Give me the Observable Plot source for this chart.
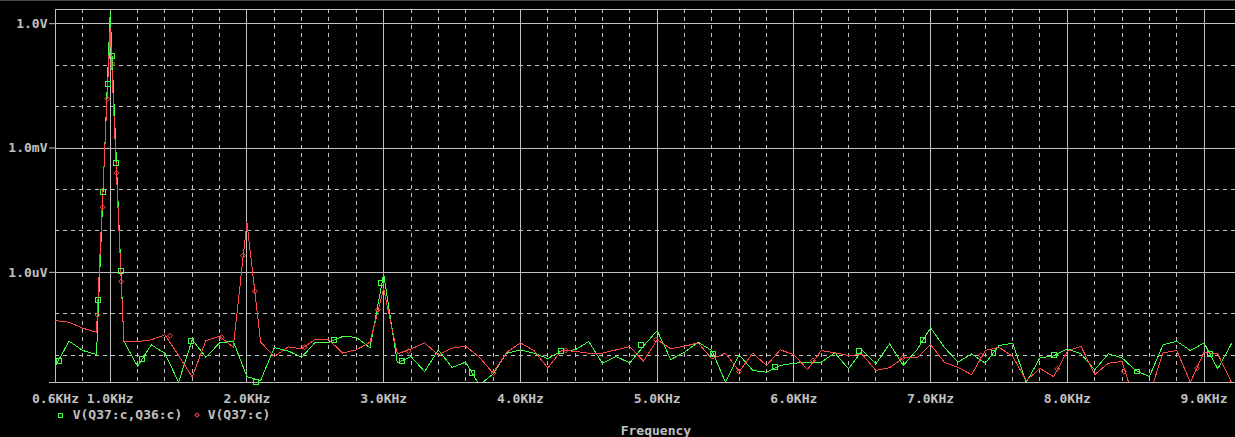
<!DOCTYPE html>
<html>
<head>
<meta charset="utf-8">
<script src="https://cdn.jsdelivr.net/npm/d3@7"></script>
<script src="https://cdn.jsdelivr.net/npm/@observablehq/plot@0.6"></script>
<style>
html, body { margin: 0; padding: 0; background: #000; }
#wrap { position: relative; width: 1235px; height: 437px; overflow: hidden; background: #000;
  font-family: "DejaVu Sans Mono", monospace; font-weight: bold; font-size: 13px; color: #c0c0c0; }
#wrap svg { position: absolute; left: 0; top: 0; }
#topbar { position: absolute; left: 0; top: 0; width: 1235px; height: 1px; background: #4a4a4a; }
.lbl { position: absolute; white-space: pre; line-height: 13px; }
.sq { position: absolute; width: 3px; height: 3px; border: 1px solid #40ff40; }
.dm { position: absolute; width: 2px; height: 2px; border: 1px solid #ff4848; transform: rotate(45deg); }
</style>
</head>
<body>
<div id="wrap">
  <div id="topbar"></div>
  <div class="sq" style="left:58px; top:413px;"></div>
  <div class="lbl" id="leg1" style="left:72.7px; top:408px;"></div>
  <div class="dm" style="left:194.7px; top:413px;"></div>
  <div class="lbl" id="leg2" style="left:207.7px; top:408px;"></div>
  <div class="lbl" id="xlab" style="left:620.7px; top:423.5px;"></div>
</div>
<script>
// FFT bins (kHz)
const freqs = [0.6,0.7,0.8,0.9,1.0,1.1,1.2,1.3,1.4,1.5,1.6,1.7,1.8,1.9,2.0,2.1,2.2,2.3,2.4,2.5,2.6,2.7,2.8,2.9,
  3.0,3.1,3.2,3.3,3.4,3.5,3.6,3.7,3.8,3.9,4.0,4.1,4.2,4.3,4.4,4.5,4.6,4.7,4.8,4.9,5.0,5.1,5.2,5.3,5.4,5.5,5.6,5.7,5.8,5.9,
  6.0,6.1,6.2,6.3,6.4,6.5,6.6,6.7,6.8,6.9,7.0,7.1,7.2,7.3,7.4,7.5,7.6,7.7,7.8,7.9,8.0,8.1,8.2,8.3,8.4,8.5,8.6,8.7,8.8,8.9,
  9.0,9.1,9.2];

// V(Q37:c,Q36:c) in volts
const diffV = [5.65e-9,21.8e-9,13.0e-9,10.4e-9,1.89,21.8e-9,5.4e-9,17.8e-9,11.2e-9,2.23e-9,23.9e-9,8.95e-9,19.9e-9,21.8e-9,
  3.05e-9,2.45e-9,15.3e-9,12.8e-9,8.95e-9,20.6e-9,20.6e-9,28.3e-9,27.2e-9,15.1e-9,
  9.2e-7,6.55e-9,9.3e-9,4.05e-9,13.5e-9,5.1e-9,6.8e-9,1.9e-9,3.55e-9,11.2e-9,13.5e-9,11.2e-9,8.3e-9,12.7e-9,13.5e-9,21.4e-9,
  6.4e-9,9.3e-9,6.55e-9,16.5e-9,39.4e-9,7.9e-9,11.8e-9,20.6e-9,13.0e-9,2.23e-9,10.2e-9,4.3e-9,3.9e-9,5.65e-9,
  6.4e-9,6.8e-9,6.8e-9,11.4e-9,4.7e-9,13.0e-9,6.2e-9,18.8e-9,5.65e-9,13.5e-9,45.8e-9,15.6e-9,6.8e-9,10.8e-9,6.4e-9,17.1e-9,
  19.5e-9,2.23e-9,8.65e-9,9.6e-9,14.3e-9,10.8e-9,4.45e-9,10.8e-9,8.65e-9,4.3e-9,3.05e-9,17.8e-9,21.8e-9,13.0e-9,
  19.9e-9,4.7e-9,18.8e-9];

// V(Q37:c) in volts
const q37V = [68.8e-9,62.5e-9,44.8e-9,35.9e-9,0.766,21.8e-9,21.4e-9,23.5e-9,31.1e-9,9.9e-9,3.0e-9,22.6e-9,28.7e-9,15.6e-9,
  1.59e-5,20.8e-9,9.3e-9,15.9e-9,14.3e-9,24.3e-9,23.5e-9,11.3e-9,13.5e-9,20.6e-9,
  4.0e-7,10.8e-9,14.1e-9,19.9e-9,10.2e-9,14.8e-9,16.5e-9,8.95e-9,3.7e-9,11.8e-9,19.9e-9,13.0e-9,4.9e-9,13.0e-9,12.5e-9,11.2e-9,
  11.2e-9,13.5e-9,16.2e-9,7.2e-9,23.5e-9,14.3e-9,16.5e-9,19.9e-9,8.2e-9,11.2e-9,4.05e-9,11.2e-9,5.65e-9,13.5e-9,
  10.4e-9,4.5e-9,13.0e-9,11.4e-9,9.9e-9,10.4e-9,4.3e-9,5.0e-9,8.65e-9,8.65e-9,18.1e-9,6.8e-9,5.1e-9,3.4e-9,13.0e-9,15.6e-9,
  9.3e-9,2.45e-9,4.8e-9,3.05e-9,12.5e-9,16.5e-9,3.4e-9,6.4e-9,7.05e-9,0.64e-9,1.1e-9,11.4e-9,13.0e-9,2.23e-9,
  11.8e-9,10.8e-9,2.23e-9];

// trace marker positions (kHz, V)
const diffMarkF = [0.628,0.912,0.949,0.981,1.015,1.044,1.080,1.234,1.591,2.064,2.635,2.983,3.134,3.645,4.295,4.885,5.409,5.859,6.479,6.942,7.460,7.903,8.511,9.042];
const diffMarkV = [7.45e-9,2.21e-7,8.77e-5,3.54e-2,0.168,4.40e-4,1.09e-6,8.2e-9,22.6e-9,2.23e-9,23.5e-9,5.59e-7,7.45e-9,3.75e-9,12.8e-9,17.8e-9,10.8e-9,5.1e-9,13.0e-9,23.5e-9,11.4e-9,9.9e-9,4.05e-9,10.8e-9];
const q37MarkF = [0.908,0.945,0.978,1.015,1.047,1.080,1.438,1.815,1.971,2.058,2.421,2.956,3.182,3.803,4.331,4.991,5.599,6.139,6.796,7.368,7.927,8.414,8.949];
const q37MarkV = [9.44e-8,3.73e-5,1.54e-2,0.108,2.52e-4,6.01e-7,29.4e-9,27.2e-9,2.55e-6,3.51e-7,15.6e-9,1.25e-7,12.5e-9,3.7e-9,13.0e-9,23.5e-9,4.05e-9,7.45e-9,8.65e-9,9.9e-9,4.7e-9,4.05e-9,4.85e-9];

// axes / grid
const xTickValues = [0.6,1,2,3,4,5,6,7,8,9];
const xTickLabels = ["0.6KHz","1.0KHz","2.0KHz","3.0KHz","4.0KHz","5.0KHz","6.0KHz","7.0KHz","8.0KHz","9.0KHz"];
const xMinor = [0.8,1.2,1.4,1.6,1.8,2.2,2.4,2.6,2.8,3.2,3.4,3.6,3.8,4.2,4.4,4.6,4.8,5.2,5.4,5.6,5.8,6.2,6.4,6.6,6.8,7.2,7.4,7.6,7.8,8.2,8.4,8.6,8.8];
const yTickValues = [1, 1e-3, 1e-6, 2.2e-9];
const yTickLabels = ["1.0V", "1.0mV", "1.0uV", "2.2nV"];
const yMinor = [0.1, 0.01, 1e-4, 1e-5, 1e-7, 1e-8];
const yTop = 2.2;
const seriesNames = ["V(Q37:c,Q36:c)", "V(Q37:c)"];
const xAxisTitle = "Frequency";

const GREEN = "#40ff40", RED = "#ff4848", GRID = "#c0c0c0";

const diffData = freqs.map((f, i) => ({f, v: diffV[i]}));
const q37Data = freqs.map((f, i) => ({f, v: q37V[i]}));
const diffMarks = diffMarkF.map((f, i) => ({f, v: diffMarkV[i]}));
const q37Marks = q37MarkF.map((f, i) => ({f, v: q37MarkV[i]}));
const yLabelMap = new Map(yTickValues.map((d, i) => [d, yTickLabels[i]]));
const xLabelMap = new Map(xTickValues.map((d, i) => [d, xTickLabels[i]]));

const chart = Plot.plot({
  width: 1235,
  height: 437,
  marginLeft: 55,
  marginRight: 0,
  marginTop: 9,
  marginBottom: 55,
  style: {background: "#000", color: "#c0c0c0", fontFamily: "'DejaVu Sans Mono', monospace",
          fontWeight: "bold", fontSize: "13px"},
  x: {domain: [0.6, 9.23], ticks: xTickValues, tickFormat: d => xLabelMap.get(d), tickSize: 0, tickPadding: 11.5, label: null},
  y: {type: "log", domain: [2.2e-9, yTop], ticks: yTickValues, tickFormat: d => yLabelMap.get(d), tickSize: 6, tickPadding: 2, label: null},
  marks: [
    Plot.ruleX(xMinor, {stroke: GRID, strokeDasharray: "4,4", shapeRendering: "crispEdges"}),
    Plot.ruleY(yMinor, {stroke: GRID, strokeDasharray: "4,4", shapeRendering: "crispEdges"}),
    Plot.ruleX(xTickValues, {stroke: GRID, shapeRendering: "crispEdges"}),
    Plot.ruleY([...yTickValues, yTop], {stroke: GRID, shapeRendering: "crispEdges"}),
    Plot.line(diffData, {x: "f", y: "v", stroke: GREEN, strokeWidth: 1, clip: true, shapeRendering: "crispEdges"}),
    Plot.line(q37Data, {x: "f", y: "v", stroke: RED, strokeWidth: 1, clip: true, shapeRendering: "crispEdges"}),
    Plot.dot(diffMarks, {x: "f", y: "v", symbol: "square", r: 2.8, stroke: GREEN, fill: "none", strokeWidth: 1, shapeRendering: "crispEdges"}),
    Plot.dot(q37Marks, {x: "f", y: "v", symbol: "diamond2", r: 2.3, stroke: RED, fill: "none", strokeWidth: 1})
  ]
});
document.getElementById("wrap").prepend(chart);
document.getElementById("leg1").textContent = seriesNames[0];
document.getElementById("leg2").textContent = seriesNames[1];
document.getElementById("xlab").textContent = xAxisTitle;
</script>
</body>
</html>
